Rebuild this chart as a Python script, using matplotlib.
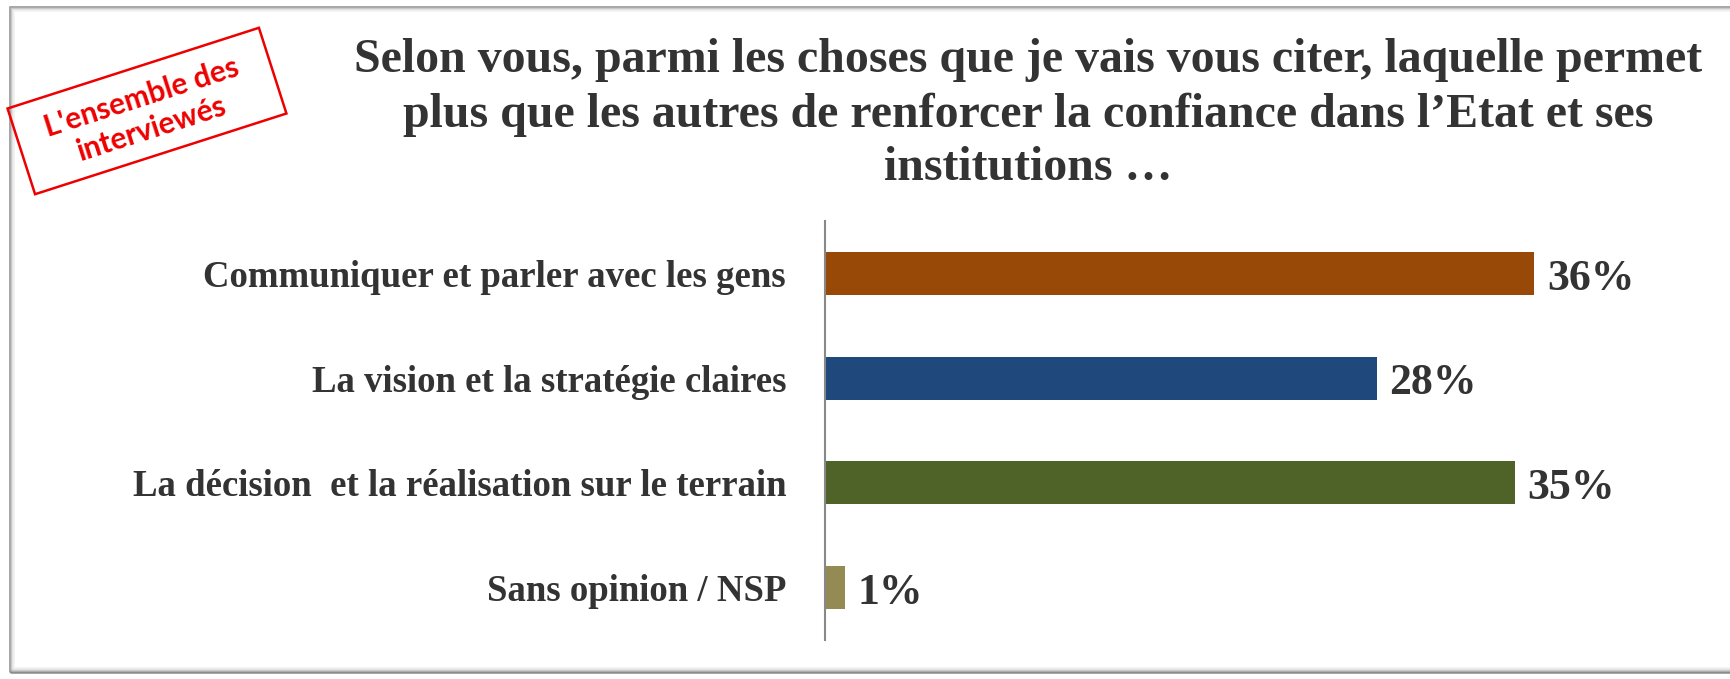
import matplotlib.pyplot as plt
from matplotlib.patches import Rectangle
import matplotlib.transforms as mtransforms

# data
categories = ['Communiquer et parler avec les gens',
              'La vision et la stratégie claires',
              'La décision  et la réalisation sur le terrain',
              'Sans opinion / NSP']
values = [36, 28, 35, 1]
colors = ['#984807', '#1F497D', '#4F6228', '#948A54']
title_lines = ['Selon vous, parmi les choses que je vais vous citer, laquelle permet',
               'plus que les autres de renforcer la confiance dans l\u2019Etat et ses',
               'institutions \u2026']
stamp_text = "L'ensemble des\ninterviewés"

W, H = 1730, 679
fig = plt.figure(figsize=(W / 100, H / 100), dpi=100)
serif = 'Liberation Serif'
dark = '#333333'

# frame with a soft shadow (pixel coords)
px = mtransforms.IdentityTransform()
shades = ['#8c8c8c', '#b0b0b0', '#cfcfcf', '#e4e4e4', '#f1f1f1']
for i, c in enumerate(shades):
    fig.patches.append(Rectangle((10 + i, 7 + i), W + 20, 672 - 7 - 2 * i, transform=px,
                                 fill=False, edgecolor=c, lw=1.8 if i == 0 else 1.2))

# axes
ax = fig.add_axes([825 / W, 1 - 640 / H, (1650 - 825) / W, (640 - 221) / H])
ypos = range(len(categories))
ax.barh(ypos, values, height=0.41, color=colors)
ax.set_xlim(0, 825 / 19.7)
ax.set_ylim(3.5, -0.5)
ax.set_yticks(list(ypos))
ax.set_yticklabels(categories, fontfamily=serif, fontweight='bold', fontsize=26.5, color=dark)
ax.tick_params(axis='y', length=0, pad=28)
ax.set_xticks([])
for s in ['top', 'right', 'bottom']:
    ax.spines[s].set_visible(False)
ax.spines['left'].set_color('#888888')
ax.spines['left'].set_linewidth(1.5)
for i, v in enumerate(values):
    ax.text(v + 0.65, i + 0.05, f'{v}%', va='center', ha='left', fontfamily=serif,
            fontweight='bold', fontsize=31.5, color=dark)

# title
for line, yb in zip(title_lines, [72, 127, 180]):
    fig.text(1028 / W, 1 - yb / H, line, ha='center', va='baseline', fontfamily=serif,
             fontweight='bold', fontsize=34.5, color=dark)

# stamp
angle = 17.8
cx, cy = 147, H - 111
tr = mtransforms.Affine2D().rotate_deg_around(cx, cy, angle)
fig.patches.append(Rectangle((cx - 132, cy - 45), 264, 90, fill=False, edgecolor='#ee0000',
                             lw=1.8, transform=tr))
fig.text(cx / W, (cy - 2) / H, stamp_text, ha='center', va='center', rotation=angle,
         rotation_mode='anchor', fontfamily='Lato', fontweight='bold', fontsize=21.5,
         color='#ee0000', linespacing=1.2)

fig.savefig('out.png', dpi=100)
